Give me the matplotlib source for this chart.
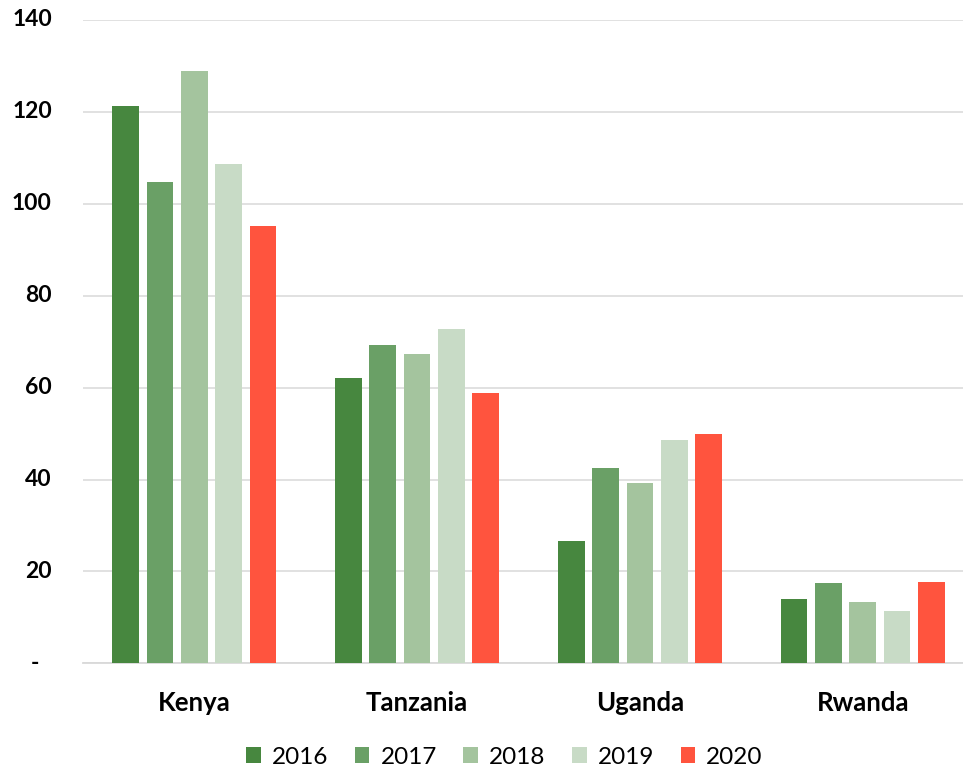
import matplotlib
matplotlib.use("Agg")
import matplotlib.pyplot as plt
import numpy as np
from matplotlib.patches import Patch

# Data
countries = ["Kenya", "Tanzania", "Uganda", "Rwanda"]
years = ["2016", "2017", "2018", "2019", "2020"]
v2016 = [121.2, 62.1, 26.6, 13.9]
v2017 = [104.7, 69.2, 42.6, 17.4]
v2018 = [129.0, 67.3, 39.2, 13.3]
v2019 = [108.7, 72.8, 48.7, 11.3]
v2020 = [95.2, 58.8, 49.9, 17.8]
y_ticks = [0, 20, 40, 60, 80, 100, 120, 140]
y_tick_labels = ["-", "20", "40", "60", "80", "100", "120", "140"]

series = [v2016, v2017, v2018, v2019, v2020]
colors = ["#47873F", "#6AA066", "#A4C49E", "#C8DBC6", "#FF543E"]

W, H = 963, 768
fig = plt.figure(figsize=(W / 100, H / 100), dpi=100)
ax = fig.add_axes([83 / W, 1 - 663.3 / H, (974 - 83) / W, (663.3 - 20) / H])

x = np.arange(len(countries))
step = 0.154
width = 0.12
for i, (vals, c) in enumerate(zip(series, colors)):
    ax.bar(x + (i - 2) * step, vals, width=width, color=c, zorder=3)

ax.set_xlim(-0.5, len(countries) - 0.5)
ax.set_ylim(0, 140)

ax.set_yticks(y_ticks)
ax.set_yticklabels([])
ax.tick_params(axis="y", length=0)
ax.grid(axis="y", color="#D9D9D9", linewidth=1.1, zorder=0)

for s in ["top", "right", "left"]:
    ax.spines[s].set_visible(False)
ax.spines["bottom"].set_color("#D9D9D9")
ax.spines["bottom"].set_linewidth(1.3)

font = "Lato"
ytr = ax.get_yaxis_transform()
for val, lab in zip(y_ticks, y_tick_labels):
    xpos = -0.0494 if lab == "-" else -0.035
    ax.text(xpos, val, lab, transform=ytr, ha="right", va="center",
            fontsize=16.5, fontweight="bold", family=font, color="black")

ax.set_xticks(x)
ax.set_xticklabels(countries, fontsize=18.5, fontweight="bold", family=font)
ax.tick_params(axis="x", length=0, pad=20)

handles = [Patch(facecolor=c, edgecolor="none") for c in colors]
fig.legend(handles, years, loc="center", bbox_to_anchor=(504.5 / W, 1 - 757 / H),
           ncol=5, frameon=False, prop={"family": font, "size": 17.5},
           handlelength=0.6, handleheight=0.6, handletextpad=0.45,
           columnspacing=1.1)

fig.savefig("out.png", dpi=100)
